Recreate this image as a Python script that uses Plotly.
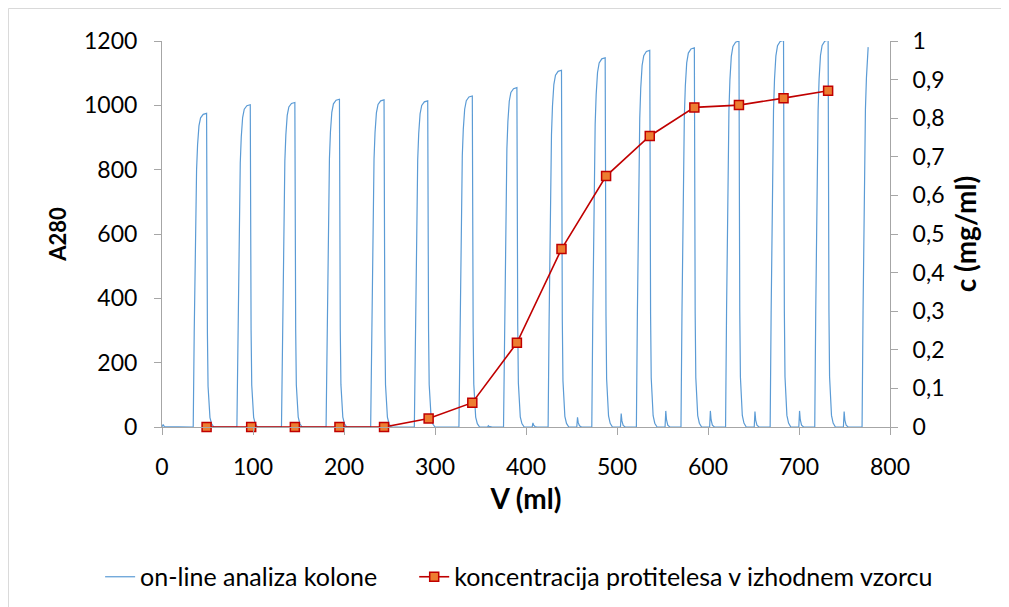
import plotly.graph_objects as go

# ---------------- data ----------------
# sample concentration measured at the end of each loading cycle
c_volume_ml = [49, 98, 146, 195, 244, 293, 341, 390, 439, 488, 536, 585, 634, 683, 732]
c_mg_ml = [0.0, 0.0, 0.0, 0.0, 0.0, 0.022, 0.063, 0.218, 0.461, 0.650, 0.754, 0.828, 0.834, 0.852, 0.871]

# on-line A280 trace: one elution peak per cycle
peak_end_ml = [49, 97, 146, 195, 244, 292, 341, 390, 439, 487, 536, 585, 634, 683, 732, 784]
peak_height = [975, 1002, 1009, 1019, 1017, 1014, 1029, 1055, 1109, 1148, 1171, 1179, 1200, 1202, 1203, 1206]
spike_height = [0, 0, 0, 0, 0, 0, 4, 13, 30, 42, 50, 50, 48, 50, 48, 0]

# shape of one peak (offset from peak end in ml, fraction of height)
rise_dx = [-14.7, -13.6, -12.5, -11.0, -9.9, -8.4, -6.6, -3.7, 0.0]
rise_frac = [0.0, 0.30, 0.61, 0.82, 0.90, 0.96, 0.986, 0.997, 1.0]
fall_dx = [0.3, 0.9, 1.6, 2.5, 3.7, 5.5, 8.0]
fall_frac = [0.60, 0.30, 0.13, 0.06, 0.03, 0.01, 0.0]
spike_dx = [16.8, 17.6, 18.4, 19.8, 22.0]
spike_frac = [0.0, 1.0, 0.45, 0.12, 0.0]

start_x = [0.0, 1.3, 2.6]
start_y = [1, 8, 1]
scan_end_x = 776
scan_end_y = 1181

# ---------------- assemble the on-line trace ----------------
trace_x = list(start_x)
trace_y = list(start_y)
for end, h, sp in zip(peak_end_ml, peak_height, spike_height):
    for dx, f in zip(rise_dx, rise_frac):
        x = end + dx
        if x < scan_end_x:
            trace_x.append(x)
            trace_y.append(h * f)
    if end >= scan_end_x:
        break
    for dx, f in zip(fall_dx, fall_frac):
        trace_x.append(end + dx)
        trace_y.append(h * f)
    if sp > 0:
        for dx, f in zip(spike_dx, spike_frac):
            trace_x.append(end + dx)
            trace_y.append(sp * f)
trace_x.append(scan_end_x)
trace_y.append(scan_end_y)

y2_ticks = [0, 0.1, 0.2, 0.3, 0.4, 0.5, 0.6, 0.7, 0.8, 0.9, 1]
y2_labels = ["0", "0,1", "0,2", "0,3", "0,4", "0,5", "0,6", "0,7", "0,8", "0,9", "1"]

FONT = "Lato, 'Open Sans', sans-serif"
AX = "#A6A6A6"
PAD = "\u00a0" * 5

fig = go.Figure()
fig.add_trace(go.Scatter(
    x=trace_x, y=trace_y, mode="lines",
    name="on-line analiza kolone" + PAD,
    line=dict(color="#5B9BD5", width=1.2),
))
fig.add_trace(go.Scatter(
    x=c_volume_ml, y=c_mg_ml, mode="lines+markers", yaxis="y2",
    name="koncentracija protitelesa v izhodnem vzorcu",
    line=dict(color="#C00000", width=1.6),
    marker=dict(symbol="square", size=9, color="#ED7D31",
                line=dict(color="#C00000", width=1.5)),
    cliponaxis=False,
))

fig.update_layout(
    width=1009, height=607, autosize=False,
    margin=dict(l=154, r=127, t=33, b=188),
    paper_bgcolor="white", plot_bgcolor="white",
    font=dict(family=FONT, size=23, color="black"),
    showlegend=True,
    legend=dict(orientation="h", x=-0.085, xanchor="left", y=-0.3886, yanchor="middle",
                font=dict(size=25), bgcolor="rgba(0,0,0,0)"),
    xaxis=dict(range=[0, 800], dtick=100, tick0=0, showgrid=False, zeroline=False,
               showline=True, linecolor=AX, linewidth=1,
               ticks="outside", ticklen=7, tickcolor=AX,
               ticklabelstandoff=12,
               title=dict(text="<b>V (ml)</b>", standoff=10)),
    yaxis=dict(range=[0, 1200], dtick=200, tick0=0, showgrid=False, zeroline=False,
               showline=True, linecolor=AX, linewidth=1,
               ticks="outside", ticklen=7, tickcolor=AX,
               ticklabelstandoff=12,
               title=dict(text="<b>A280</b>", standoff=11, font=dict(size=22))),
    yaxis2=dict(range=[0, 1], overlaying="y", side="right", showgrid=False, zeroline=False,
                showline=True, linecolor=AX, linewidth=1,
                ticks="outside", ticklen=7, tickcolor=AX,
                tickvals=y2_ticks, ticktext=y2_labels,
                ticklabelstandoff=10,
                title=dict(text="<b>c (mg/ml)</b>", standoff=12)),
    shapes=[dict(type="rect", xref="paper", yref="paper",
                 x0=-0.2109, x1=1.19, y0=-0.6, y1=1.0842,
                 line=dict(color="#D9D9D9", width=1))],
)

fig.write_html("out.html")
